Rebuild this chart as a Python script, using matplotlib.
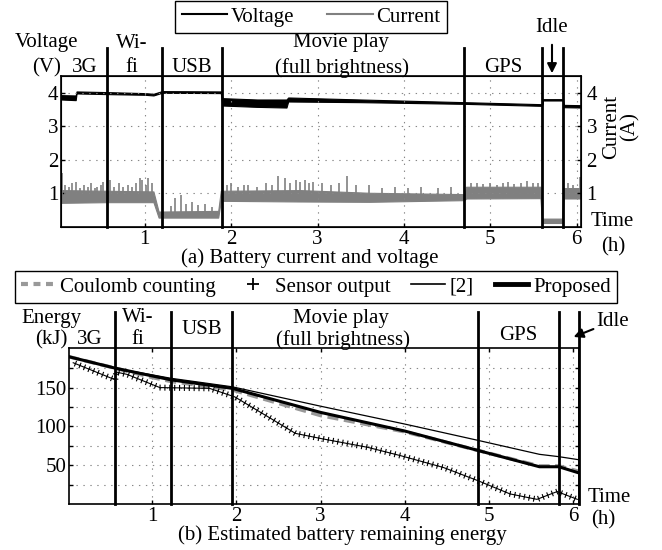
import numpy as np
import matplotlib
matplotlib.use('Agg')
from matplotlib import pyplot as plt
from matplotlib.lines import Line2D
import matplotlib.patheffects as pe

plt.rcParams['font.family'] = ['Liberation Serif', 'DejaVu Serif']
plt.rcParams['font.size'] = 15
plt.rcParams['lines.scale_dashes'] = False

# ---- (a) battery voltage / current, bands ----
t_volt = [0.03, 0.20, 0.21, 0.56, 1.00, 1.10, 1.20, 1.88, 1.90, 2.30, 2.64, 2.66, 3.50, 4.70, 5.60, 5.61, 5.84, 5.85, 6.05]
volt_lo = [3.80, 3.78, 3.98, 3.96, 3.94, 3.92, 4.00, 3.99, 3.62, 3.58, 3.56, 3.74, 3.72, 3.67, 3.61, 3.77, 3.77, 3.57, 3.56]
volt_hi = [3.93, 3.92, 4.04, 4.02, 3.99, 3.97, 4.05, 4.04, 3.84, 3.80, 3.80, 3.86, 3.80, 3.72, 3.66, 3.81, 3.81, 3.64, 3.63]

t_curr = [0.03, 0.56, 1.10, 1.16, 1.85, 1.88, 2.80, 3.60, 4.70, 4.72, 5.58, 5.60, 5.83, 5.85, 6.05]
curr_lo = [0.72, 0.74, 0.74, 0.28, 0.28, 0.78, 0.76, 0.75, 0.80, 0.85, 0.86, 0.12, 0.12, 0.85, 0.85]
curr_hi = [1.10, 1.08, 1.06, 0.46, 0.48, 1.08, 1.10, 1.02, 0.98, 1.20, 1.20, 0.25, 0.25, 1.16, 1.16]

spike_t = [0.04, 0.08, 0.12, 0.16, 0.20, 0.25, 0.30, 0.34, 0.38, 0.42, 0.45, 0.49, 0.52,
           0.60, 0.64, 0.70, 0.75, 0.80, 0.85, 0.90, 0.94, 0.97, 1.01, 1.04, 1.08,
           1.30, 1.35, 1.42, 1.48, 1.55, 1.62, 1.70, 1.78,
           1.95, 2.00, 2.08, 2.15, 2.20, 2.30, 2.40, 2.47, 2.54, 2.62, 2.68, 2.75, 2.80, 2.85, 2.90,
           2.95, 3.05, 3.15, 3.25, 3.34, 3.45, 3.60, 3.75, 3.90, 4.05, 4.20, 4.40, 4.55,
           4.78, 4.85, 4.92, 5.00, 5.08, 5.15, 5.20, 5.28, 5.35, 5.42, 5.50, 5.55,
           5.90, 5.96, 6.04]
spike_peak = [1.62, 1.25, 1.20, 1.30, 1.35, 1.15, 1.25, 1.20, 1.30, 1.15, 1.20, 1.25, 1.35,
              1.40, 1.20, 1.30, 1.20, 1.25, 1.20, 1.30, 1.45, 1.40, 1.25, 1.45, 1.30,
              0.62, 0.85, 0.95, 0.70, 0.75, 0.65, 0.70, 0.60,
              1.25, 1.30, 1.20, 1.25, 1.25, 1.20, 1.30, 1.25, 1.52, 1.45, 1.30, 1.40, 1.35, 1.40, 1.30,
              1.35, 1.30, 1.25, 1.30, 1.52, 1.25, 1.25, 1.15, 1.20, 1.15, 1.20, 1.15, 1.20,
              1.30, 1.32, 1.28, 1.30, 1.25, 1.32, 1.35, 1.28, 1.30, 1.38, 1.30, 1.32,
              1.30, 1.25, 1.50]

phases_a = [0.56, 1.20, 1.89, 4.70, 5.60, 5.84]

# ---- (b) remaining energy (kJ) ----
t_prop = [0.0, 0.56, 1.22, 1.95, 3.0, 4.0, 4.87, 5.6, 5.83, 6.07]
e_prop = [190, 175, 160, 149, 118, 94, 69, 48, 48, 40]
e_ref2 = [190, 175, 162, 151, 126, 103, 82, 64, 61, 57]

t_coul = [0.0, 0.56, 1.0, 1.22, 1.95, 3.0, 4.0, 4.87, 5.6, 5.83, 6.07]
e_coul = [190, 175, 163, 158, 147, 114, 93, 69, 49, 49, 42]

t_sens = [0.06, 0.56, 0.57, 0.70, 1.09, 1.68, 1.98, 2.38, 2.70, 3.02, 3.56, 3.96, 4.46, 4.87, 5.25, 5.57, 5.81, 6.05]
e_sens = [182, 160, 170, 167, 150, 149, 138, 112, 91, 84, 73, 62, 47, 30, 13, 6, 16, 6]

phases_b = [0.56, 1.22, 1.95, 4.87, 5.83, 6.07]

W, H = 662, 550
fig = plt.figure(figsize=(W / 100, H / 100), dpi=100)


def px(x, y):
    return x / W, 1 - y / H


def txt(x, y, s, **kw):
    kw.setdefault('ha', 'center')
    kw.setdefault('va', 'center')
    fig.text(*px(x, y), s, **kw)


def style(ax):
    ax.tick_params(direction='in', length=3, width=1, pad=2, labelsize=15)
    for s in ax.spines.values():
        s.set_linewidth(1.2)
    ax.grid(True, linestyle=(0, (1, 4)), color='#888888', linewidth=0.8)


# ---------------- top plot ----------------
ax1 = fig.add_axes([61 / W, 1 - 227 / H, 520 / W, 151 / H])
ax1.fill_between(t_volt, volt_lo, volt_hi, color='black', linewidth=0.8)
ax1.fill_between(t_curr, curr_lo, curr_hi, color='#808080', linewidth=0.8)
ax1.vlines(spike_t, np.interp(spike_t, t_curr, curr_lo), spike_peak, color='#808080', linewidth=1.2)
ax1.set_xlim(0.03, 6.05)
ax1.set_ylim(0, 4.5)
ax1.set_xticks([1, 2, 3, 4, 5, 6])
ax1.set_yticks([1, 2, 3, 4])
style(ax1)
for p in phases_a:
    ax1.plot([p, p], [0, 5.32], color='black', linewidth=2, clip_on=False)

ax1r = ax1.twinx()
ax1r.set_ylim(0, 4.5)
ax1r.set_yticks([1, 2, 3, 4])
ax1r.tick_params(direction='in', length=3, width=1, pad=4, labelsize=15)

txt(47, 43, 'Voltage')
txt(47, 68, '(V)')
txt(85, 68, '3G')
txt(132, 43, 'Wi-')
txt(132, 68, 'fi')
txt(192, 68, 'USB')
txt(341, 43, 'Movie play')
txt(342, 68, '(full brightness)')
txt(503, 68, 'GPS')
txt(552, 28, 'Idle')
ax1.annotate('', xy=px(552, 76), xytext=px(552, 42), xycoords='figure fraction',
             arrowprops=dict(arrowstyle='-|>', color='black', lw=1.5, mutation_scale=14))
txt(612, 127, 'Current', rotation=90)
txt(630, 127, '(A)', rotation=90)
txt(612, 222, 'Time')
txt(613, 247, '(h)')
txt(310, 258, '(a) Battery current and voltage')

fig.legend(handles=[Line2D([], [], color='black', lw=1.5), Line2D([], [], color='#808080', lw=1.5)],
           labels=['Voltage', 'Current'], loc='center', bbox_to_anchor=px(311, 17), ncol=2,
           fancybox=False, edgecolor='black', framealpha=1, handlelength=2.2, handletextpad=0.15,
           columnspacing=1.6, borderpad=0.3, fontsize=15).get_frame().set_linewidth(1)

# ---------------- bottom plot ----------------
ax2 = fig.add_axes([69 / W, 1 - 504 / H, 510 / W, 156 / H])
ax2.plot(t_coul, e_coul, color='#999999', linewidth=2.6, dashes=(8, 4))
ax2.plot(t_prop, e_ref2, color='black', linewidth=0.9)
ax2.plot(t_prop, e_prop, color='black', linewidth=2.2)
ax2.plot(t_sens, e_sens, color='black', linewidth=0.8,
         path_effects=[pe.TickedStroke(spacing=3.5, angle=90, length=0.5, linewidth=0.8),
                       pe.TickedStroke(spacing=3.5, angle=-90, length=0.5, linewidth=0.8),
                       pe.Normal()])
ax2.set_xlim(0.01, 6.07)
ax2.set_ylim(0, 201)
ax2.set_xticks([1, 2, 3, 4, 5, 6])
ax2.set_yticks([25, 50, 75, 100, 125, 150, 175])
ax2.set_yticklabels(['', '50', '', '100', '', '150', ''])
style(ax2)
ax2.tick_params(right=True, top=True)
for p in phases_b:
    ax2.plot([p, p], [0, 247], color='black', linewidth=2, clip_on=False)

txt(51, 318, 'Energy')
txt(51, 340, '(kJ)')
txt(90, 340, '3G')
txt(138, 318, 'Wi-')
txt(138, 340, 'fi')
txt(202, 330, 'USB')
txt(341, 318, 'Movie play')
txt(343, 340, '(full brightness)')
txt(518, 335, 'GPS')
txt(613, 322, 'Idle')
ax2.annotate('', xy=px(571, 338), xytext=px(596, 328), xycoords='figure fraction',
             arrowprops=dict(arrowstyle='-|>', color='black', lw=1.5, mutation_scale=14))
txt(609, 498, 'Time')
txt(603, 520, '(h)')
txt(342, 535, '(b) Estimated battery remaining energy')

h_coul = Line2D([], [], color='#999999', lw=3, dashes=(5, 4))
h_sens = Line2D([], [], color='black', marker='+', linestyle='none', markersize=9, markeredgewidth=1.3)
h_ref2 = Line2D([], [], color='black', lw=1.2)
h_prop = Line2D([], [], color='black', lw=3.5)
fig.legend(handles=[h_coul, h_sens, h_ref2, h_prop],
           labels=['Coulomb counting', 'Sensor output', '[2]', 'Proposed'],
           loc='center', bbox_to_anchor=px(316, 287), ncol=4, fancybox=False, edgecolor='black',
           framealpha=1, handlelength=1.6, handletextpad=0.25, columnspacing=1.0, borderpad=0.3,
           fontsize=15).get_frame().set_linewidth(1)

fig.savefig('out.png', dpi=100)
